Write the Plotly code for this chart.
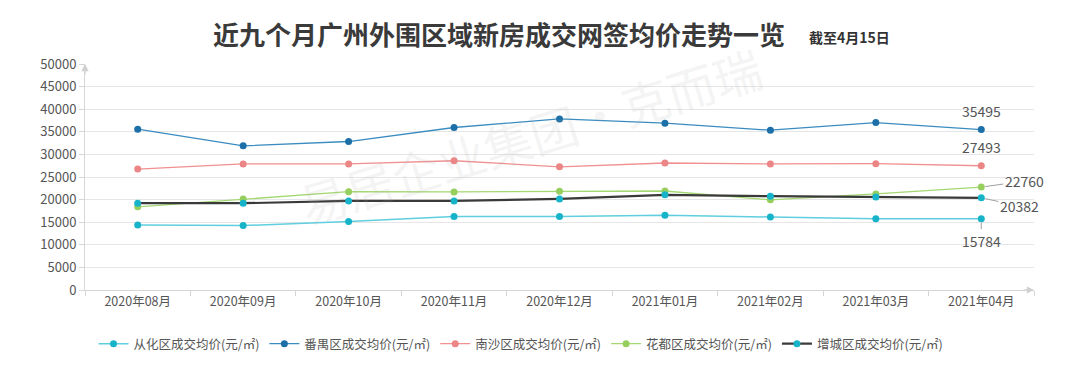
import plotly.graph_objects as go

months = ["2020年08月", "2020年09月", "2020年10月", "2020年11月", "2020年12月",
          "2021年01月", "2021年02月", "2021年03月", "2021年04月"]

conghua = [14400, 14250, 15150, 16250, 16250, 16550, 16150, 15750, 15784]
panyu = [35580, 31900, 32850, 35950, 37850, 36900, 35350, 37050, 35495]
nansha = [26750, 27900, 27900, 28600, 27250, 28100, 27900, 27950, 27493]
huadu = [18400, 20150, 21750, 21700, 21850, 21900, 19950, 21250, 22760]
zengcheng = [19200, 19200, 19700, 19700, 20150, 21050, 20750, 20550, 20382]

names = ["从化区成交均价(元/㎡)", "番禺区成交均价(元/㎡)", "南沙区成交均价(元/㎡)",
         "花都区成交均价(元/㎡)", "增城区成交均价(元/㎡)"]

title = "近九个月广州外围区域新房成交网签均价走势一览"
subtitle = "截至4月15日"
watermark = "易居企业集团·克而瑞"

series = [
    (names[0], conghua, "#5fcfdf", "#17b3c9", 1.5),
    (names[1], panyu, "#3a8cc0", "#1d6fa8", 1.3),
    (names[2], nansha, "#f09090", "#ec8585", 1.3),
    (names[3], huadu, "#a3d872", "#97cf5f", 1.3),
    (names[4], zengcheng, "#3a3a3a", "#17b3c9", 2.2),
]

fig = go.Figure()
for name, vals, lc, mc, lw in series:
    fig.add_trace(go.Scatter(
        x=months, y=vals, name=name, mode="lines+markers",
        line=dict(color=lc, width=lw),
        marker=dict(color=mc, size=7),
    ))

FONT = "Noto Sans CJK SC, Microsoft YaHei, sans-serif"

# page body has an 8px margin: figure pixel = screen pixel - 8
W, H = 1072, 357
L, T = 77, 56
PW, PH = 949, 226

ann = []
last = months[-1]
label_specs = [
    (panyu[-1], dict(showarrow=False, yshift=19)),
    (nansha[-1], dict(showarrow=False, yshift=19)),
    (huadu[-1], dict(showarrow=True, ax=43, ay=-6)),
    (zengcheng[-1], dict(showarrow=True, ax=38, ay=8)),
    (conghua[-1], dict(showarrow=True, ax=0, ay=22)),
]
for v, spec in label_specs:
    a = dict(x=last, y=v, xref="x", yref="y", text=str(v),
             font=dict(family=FONT, size=14, color="#555555"),
             arrowhead=0, arrowwidth=1, arrowcolor="#a0a0a0", standoff=4)
    a.update(spec)
    ann.append(a)


def px(sx):
    return (sx - 8 - L) / PW


def py(sy):
    return (T + PH - (sy - 8)) / PH


# subtitle
ann.append(dict(x=px(849), y=py(37), xref="paper", yref="paper",
                xanchor="center", yanchor="middle",
                text="<b>" + subtitle + "</b>", showarrow=False,
                font=dict(family=FONT, size=14, color="#333333")))
# watermark
ann.append(dict(x=px(530), y=py(135), xref="paper", yref="paper",
                xanchor="center", yanchor="middle",
                text=watermark, showarrow=False, textangle=-17,
                font=dict(family=FONT, size=48, color="rgba(170,170,170,0.15)")))
# axis arrows
ann.append(dict(x=1.0, y=0, xref="paper", yref="paper", ax=-12, ay=0, text="",
                showarrow=True, arrowhead=2, arrowsize=1.2, arrowwidth=1.2,
                arrowcolor="#d0d0d0"))
ann.append(dict(x=0, y=1.0, xref="paper", yref="paper", ax=0, ay=12, text="",
                showarrow=True, arrowhead=2, arrowsize=1.2, arrowwidth=1.2,
                arrowcolor="#d0d0d0"))

fig.update_layout(
    width=W, height=H,
    margin=dict(l=L, r=W - L - PW, t=T, b=H - T - PH, autoexpand=False),
    paper_bgcolor="white", plot_bgcolor="white",
    font=dict(family=FONT, color="#555555"),
    title=dict(text="<b>" + title + "</b>", x=(499 - 8) / W, xanchor="center",
               y=1 - (36 - 8) / H, yanchor="middle",
               font=dict(family=FONT, size=26, color="#3a3a3a")),
    showlegend=True,
    legend=dict(orientation="h", x=px(521), xanchor="center",
                yref="container", y=1 - (344 - 8) / H, yanchor="middle",
                font=dict(family=FONT, size=12.5, color="#555555"),
                itemwidth=30, bgcolor="rgba(0,0,0,0)"),
    annotations=ann,
)
fig.update_xaxes(type="category", range=[-0.5, 8.5], showline=True, linecolor="#d6d6d6",
                 linewidth=1, showgrid=False, ticks="outside", tickson="boundaries",
                 ticklen=5, tickcolor="#d6d6d6", automargin=False,
                 tickfont=dict(family=FONT, size=12.5, color="#555555"))
fig.update_yaxes(range=[0, 50000], dtick=5000, tickformat="d", showline=True,
                 linecolor="#d6d6d6", automargin=False,
                 linewidth=1, gridcolor="#e6e6e6", gridwidth=1, zeroline=False,
                 ticks="outside", ticklen=5, tickcolor="#d6d6d6",
                 tickfont=dict(family=FONT, size=13, color="#555555"))

fig.write_html("out.html")
